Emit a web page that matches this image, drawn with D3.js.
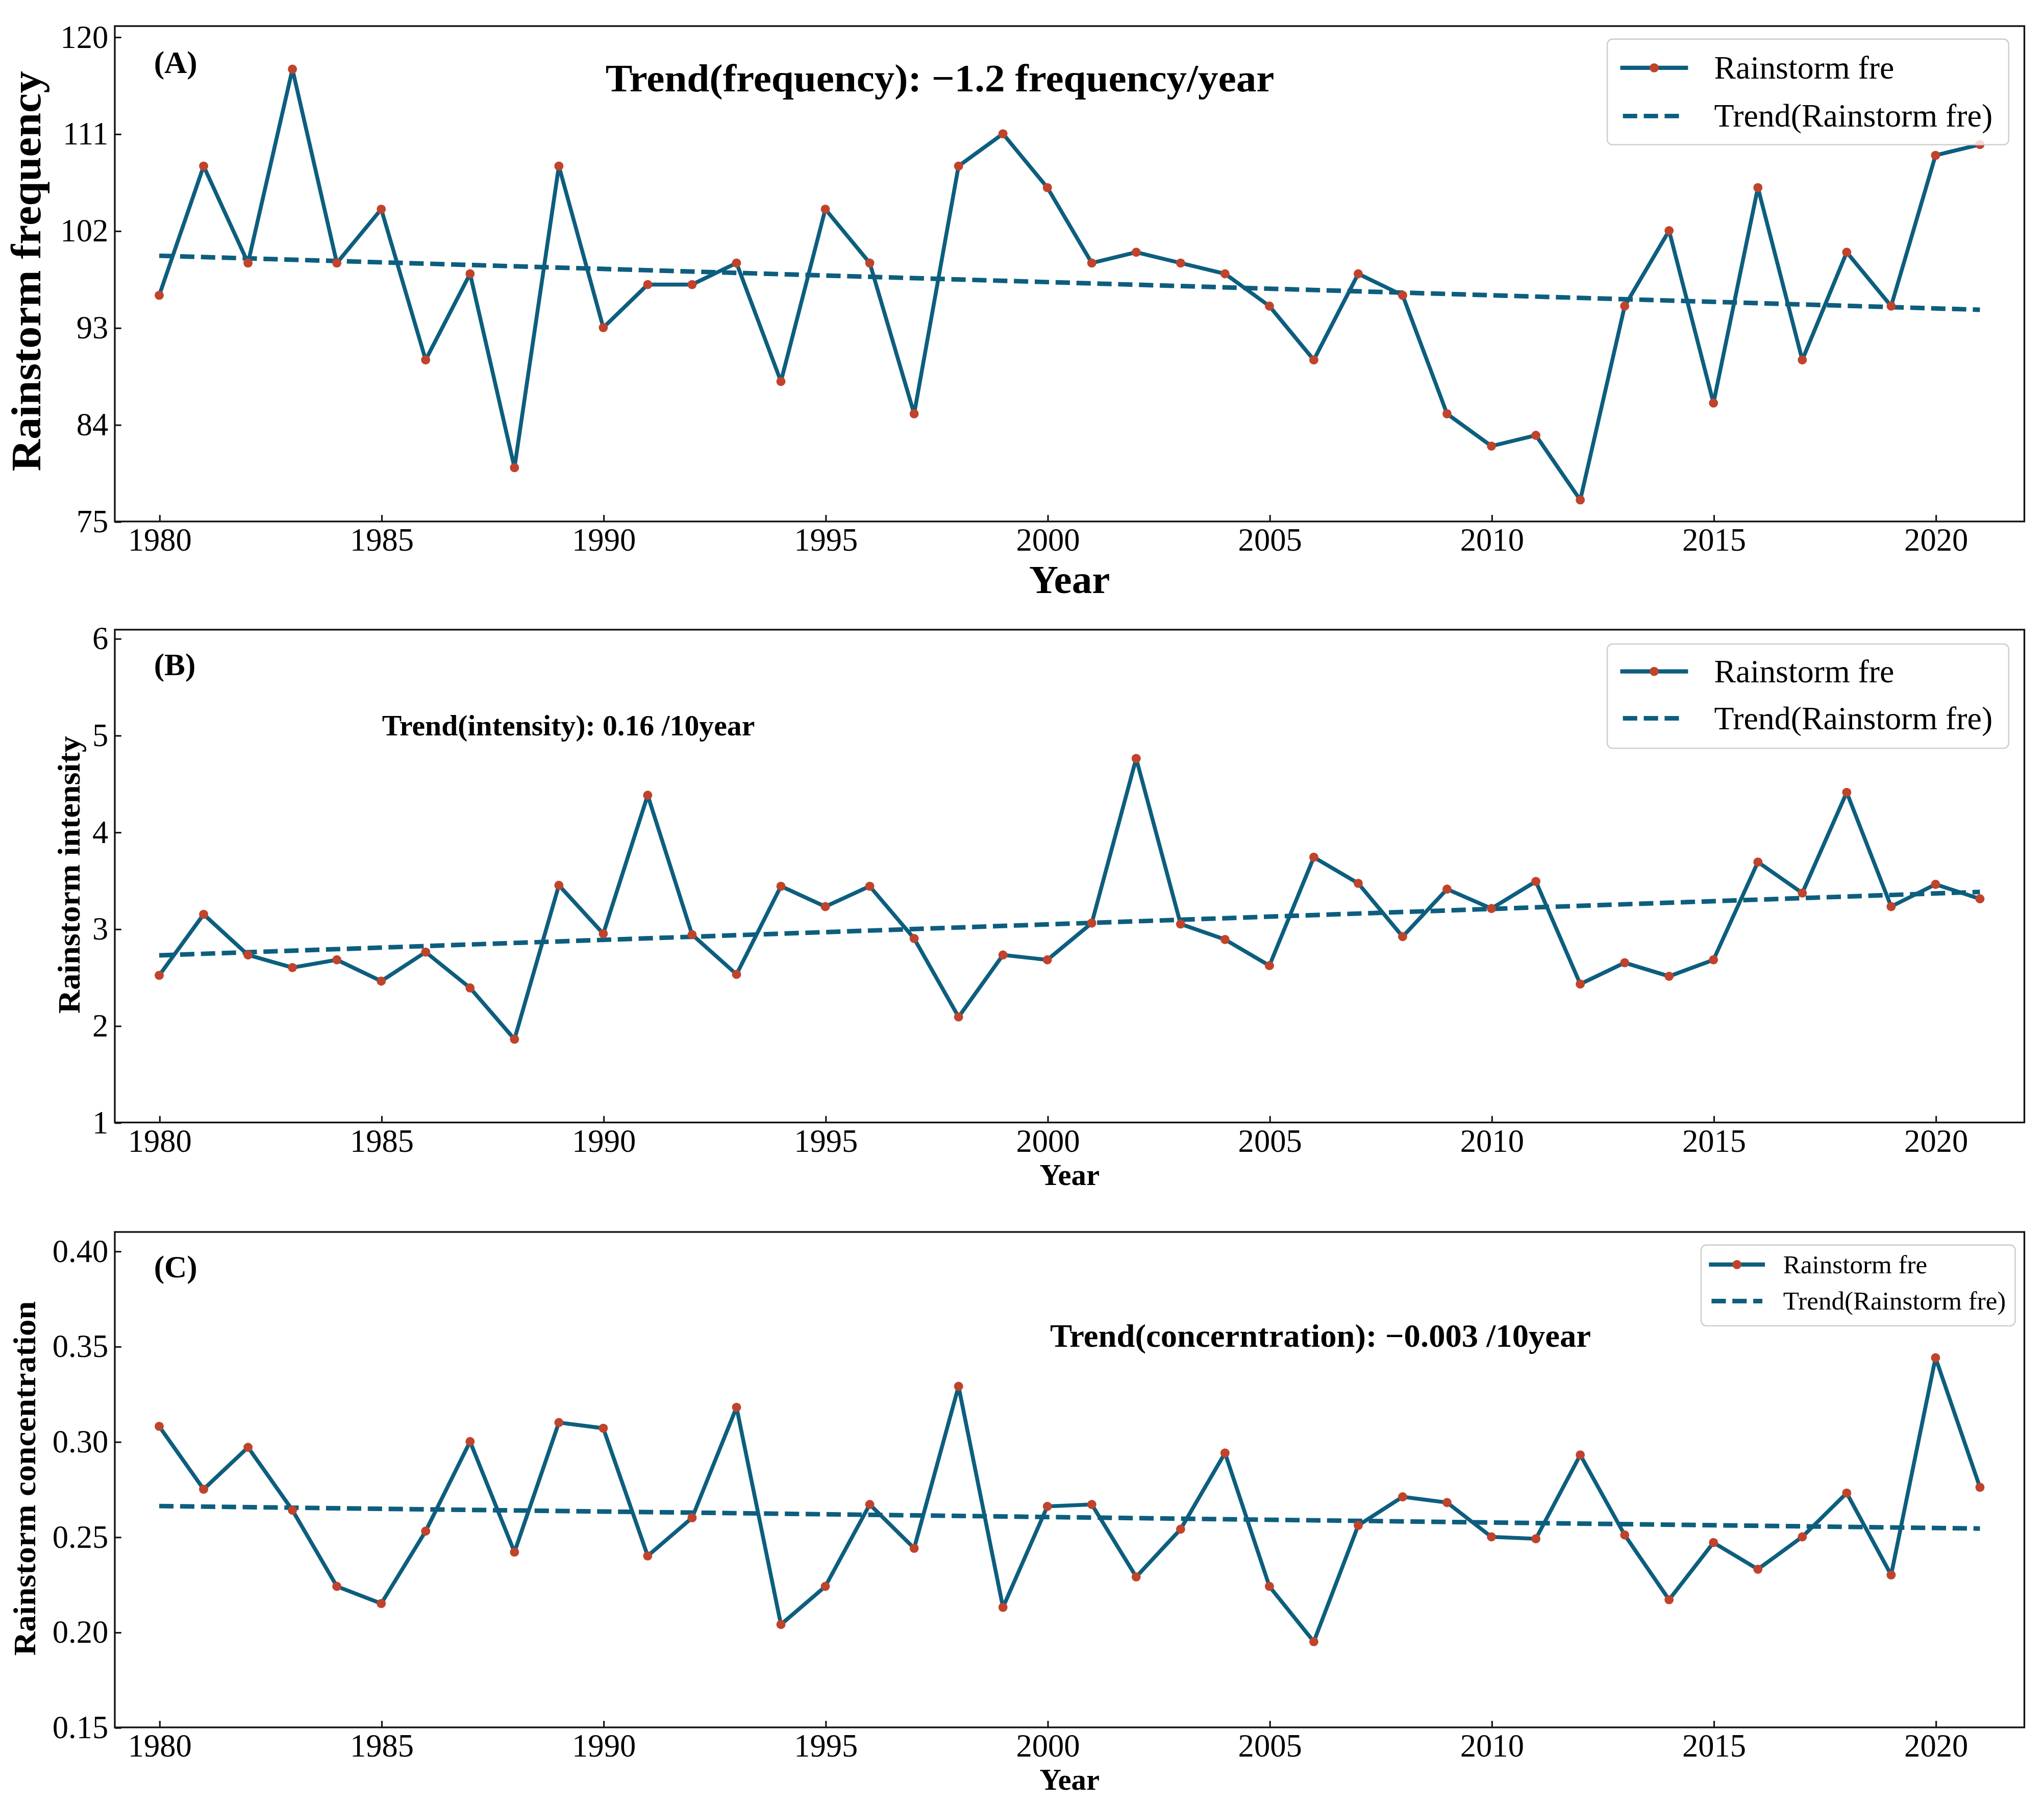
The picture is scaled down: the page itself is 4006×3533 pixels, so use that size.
<!DOCTYPE html>
<html>
<head>
<meta charset="utf-8">
<script src="https://cdn.jsdelivr.net/npm/d3@7"></script>
<style>
  html, body { margin: 0; padding: 0; background: #fff; }
  svg { display: block; }
  text { font-family: "Liberation Serif", "Times New Roman", serif; }
</style>
</head>
<body>
<div id="chart"></div>
<script>
// ---- data ----
const years = [1980, 1981, 1982, 1983, 1984, 1985, 1986, 1987, 1988, 1989,
               1990, 1991, 1992, 1993, 1994, 1995, 1996, 1997, 1998, 1999,
               2000, 2001, 2002, 2003, 2004, 2005, 2006, 2007, 2008, 2009,
               2010, 2011, 2012, 2013, 2014, 2015, 2016, 2017, 2018, 2019,
               2020, 2021];

const frequency = [96, 108, 99, 117, 99, 104, 90, 98, 80, 108,
                   93, 97, 97, 99, 88, 104, 99, 85, 108, 111,
                   106, 99, 100, 99, 98, 95, 90, 98, 96, 85,
                   82, 83, 77, 95, 102, 86, 106, 90, 100, 95,
                   109, 110];

const intensity = [2.52, 3.15, 2.73, 2.60, 2.68, 2.46, 2.76, 2.39, 1.86, 3.45,
                   2.95, 4.38, 2.94, 2.53, 3.44, 3.23, 3.44, 2.90, 2.09, 2.73,
                   2.68, 3.06, 4.76, 3.05, 2.89, 2.62, 3.74, 3.47, 2.92, 3.41,
                   3.21, 3.49, 2.43, 2.65, 2.51, 2.68, 3.69, 3.37, 4.41, 3.23,
                   3.46, 3.31];

const concentration = [0.308, 0.275, 0.297, 0.264, 0.224, 0.215, 0.253, 0.300, 0.242, 0.310,
                       0.307, 0.240, 0.260, 0.318, 0.204, 0.224, 0.267, 0.244, 0.329, 0.213,
                       0.266, 0.267, 0.229, 0.254, 0.294, 0.224, 0.195, 0.256, 0.271, 0.268,
                       0.250, 0.249, 0.293, 0.251, 0.217, 0.247, 0.233, 0.250, 0.273, 0.230,
                       0.344, 0.276];

const xTicks = [1980, 1985, 1990, 1995, 2000, 2005, 2010, 2015, 2020];
const freqTicks = [75, 84, 93, 102, 111, 120];
const intensityTicks = [1, 2, 3, 4, 5, 6];
const concTicks = [0.15, 0.20, 0.25, 0.30, 0.35, 0.40];

const legendLabels = ["Rainstorm fre", "Trend(Rainstorm fre)"];

// ---- layout ----
const W = 1568, H = 1383;
const left = 88, right = 1553;
const lineColor = "#0d5e7e";
const dotColor = "#c0432b";
const font = "'Liberation Serif', 'Times New Roman', serif";

const panels = [
    {values: frequency, domain: [75, 121], ticks: freqTicks, fmt: d3.format("d"),
     top: 20, bottom: 400, tag: "(A)", tagY: 56,
     ylabel: "Rainstorm frequency", ylSize: 32, ylX: 31, ylCenter: 208, ylLen: 307,
     xlSize: 31, xlY: 455,
     title: "Trend(frequency): \u22121.2 frequency/year", tSize: 30, tX: 721, tY: 70, tLen: 513,
     leg: {x: 1233, y: 30, w: 308, h: 81, rows: [52, 89], size: 25, l0: 1243, l1: 1295, tx: 1315}},
    {values: intensity, domain: [1, 6.09], ticks: intensityTicks, fmt: d3.format("d"),
     top: 483, bottom: 861, tag: "(B)", tagY: 518,
     ylabel: "Rainstorm intensity", ylSize: 24, ylX: 61, ylCenter: 671, ylLen: 213,
     xlSize: 23, xlY: 909,
     title: "Trend(intensity): 0.16 /10year", tSize: 22, tX: 436, tY: 564, tLen: 286,
     leg: {x: 1233, y: 494, w: 308, h: 80, rows: [515, 551], size: 25, l0: 1243, l1: 1295, tx: 1315}},
    {values: concentration, domain: [0.15, 0.41], ticks: concTicks, fmt: d3.format(".2f"),
     top: 945, bottom: 1325, tag: "(C)", tagY: 980,
     ylabel: "Rainstorm concentration", ylSize: 24, ylX: 27, ylCenter: 1134, ylLen: 272,
     xlSize: 23, xlY: 1373,
     title: "Trend(concerntration): \u22120.003 /10year", tSize: 25, tX: 1013, tY: 1033, tLen: 415,
     leg: {x: 1305, y: 955, w: 241, h: 62, rows: [970, 998], size: 20, l0: 1311, l1: 1354, tx: 1368}}
];

// least squares fit for the trend lines
function fit(xs, ys) {
    const mx = d3.mean(xs), my = d3.mean(ys);
    let num = 0, den = 0;
    xs.forEach((v, i) => { num += (v - mx) * (ys[i] - my); den += (v - mx) * (v - mx); });
    const slope = num / den;
    return v => my + slope * (v - mx);
}

const svg = d3.select("#chart").append("svg")
    .attr("width", 4006)
    .attr("height", 3533)
    .attr("viewBox", `0 0 ${W} ${H}`);

svg.append("rect").attr("width", W).attr("height", H).attr("fill", "#fff");

const x = d3.scaleLinear().domain([1979, 2022]).range([left, right]);

panels.forEach(p => {
    const y = d3.scaleLinear().domain(p.domain).range([p.bottom, p.top]);
    const g = svg.append("g");

    // axes (ticks point inward)
    g.append("g")
        .attr("transform", `translate(0,${p.bottom})`)
        .call(d3.axisBottom(x).tickValues(xTicks).tickFormat(d3.format("d"))
            .tickSizeInner(-5).tickSizeOuter(0).tickPadding(5))
        .call(a => a.select(".domain").remove());

    g.append("g")
        .attr("transform", `translate(${left},0)`)
        .call(d3.axisLeft(y).tickValues(p.ticks).tickFormat(p.fmt)
            .tickSizeInner(-5).tickSizeOuter(0).tickPadding(5))
        .call(a => a.select(".domain").remove());

    g.selectAll(".tick line").attr("stroke", "#111").attr("stroke-width", 1.2);
    g.selectAll(".tick text")
        .attr("font-family", font)
        .attr("font-size", 24.5)
        .attr("fill", "#000");

    // frame
    g.append("rect")
        .attr("x", left).attr("y", p.top)
        .attr("width", right - left).attr("height", p.bottom - p.top)
        .attr("fill", "none").attr("stroke", "#111").attr("stroke-width", 1.3);

    // trend line
    const tr = fit(years, p.values);
    const first = years[0], last = years[years.length - 1];
    g.append("line")
        .attr("x1", x(first)).attr("y1", y(tr(first)))
        .attr("x2", x(last)).attr("y2", y(tr(last)))
        .attr("stroke", lineColor).attr("stroke-width", 3.5)
        .attr("stroke-dasharray", "11,5");

    // series
    const line = d3.line().x((d, i) => x(years[i])).y(d => y(d));
    g.append("path")
        .datum(p.values)
        .attr("d", line)
        .attr("fill", "none")
        .attr("stroke", lineColor)
        .attr("stroke-width", 3)
        .attr("stroke-linejoin", "round");

    g.selectAll("circle.dot")
        .data(p.values)
        .join("circle")
        .attr("class", "dot")
        .attr("cx", (d, i) => x(years[i]))
        .attr("cy", d => y(d))
        .attr("r", 3.5)
        .attr("fill", dotColor);

    // texts
    g.append("text")
        .attr("x", 118).attr("y", p.tagY)
        .attr("font-family", font).attr("font-weight", "bold").attr("font-size", 24)
        .text(p.tag);

    g.append("text")
        .attr("x", p.tX).attr("y", p.tY)
        .attr("text-anchor", "middle")
        .attr("font-family", font).attr("font-weight", "bold").attr("font-size", p.tSize)
        .attr("textLength", p.tLen).attr("lengthAdjust", "spacingAndGlyphs")
        .text(p.title);

    g.append("text")
        .attr("x", (left + right) / 2).attr("y", p.xlY)
        .attr("text-anchor", "middle")
        .attr("font-family", font).attr("font-weight", "bold").attr("font-size", p.xlSize)
        .text("Year");

    g.append("text")
        .attr("transform", `translate(${p.ylX},${p.ylCenter}) rotate(-90)`)
        .attr("text-anchor", "middle")
        .attr("font-family", font).attr("font-weight", "bold").attr("font-size", p.ylSize)
        .attr("textLength", p.ylLen).attr("lengthAdjust", "spacingAndGlyphs")
        .text(p.ylabel);

    // legend
    const L = p.leg;
    const lg = svg.append("g");
    lg.append("rect")
        .attr("x", L.x).attr("y", L.y).attr("width", L.w).attr("height", L.h)
        .attr("rx", 4)
        .attr("fill", "#fff").attr("fill-opacity", 0.8)
        .attr("stroke", "#cfcfcf").attr("stroke-width", 1);

    lg.append("line")
        .attr("x1", L.l0).attr("x2", L.l1).attr("y1", L.rows[0]).attr("y2", L.rows[0])
        .attr("stroke", lineColor).attr("stroke-width", 3.2);
    lg.append("circle")
        .attr("cx", (L.l0 + L.l1) / 2).attr("cy", L.rows[0]).attr("r", 3.5)
        .attr("fill", dotColor);
    lg.append("line")
        .attr("x1", L.l0 + 2).attr("x2", L.l1 - 2).attr("y1", L.rows[1]).attr("y2", L.rows[1])
        .attr("stroke", lineColor).attr("stroke-width", 3.5)
        .attr("stroke-dasharray", "11,5");

    lg.selectAll("text")
        .data(legendLabels)
        .join("text")
        .attr("x", L.tx)
        .attr("y", (d, i) => L.rows[i] + L.size * 0.33)
        .attr("font-family", font).attr("font-size", L.size)
        .text(d => d);
});
</script>
</body>
</html>
